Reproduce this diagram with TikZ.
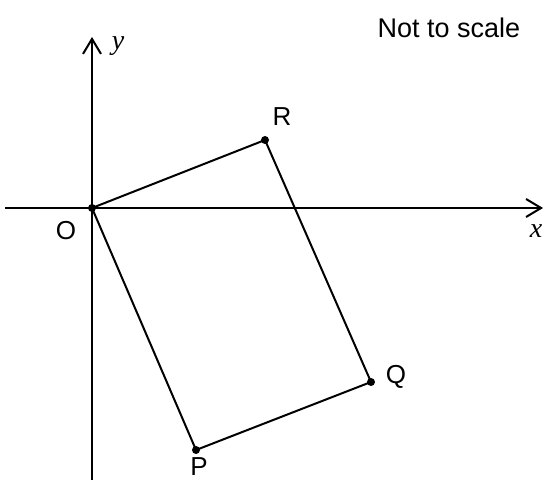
\documentclass[tikz,border=0pt]{standalone}
\usepackage{fontspec}
\setmainfont{Liberation Sans}
\newfontfamily\axisfont{Liberation Serif}
\usetikzlibrary{arrows.meta, positioning}
\tikzstyle{pt}   = [circle, fill=black, inner sep=0pt, minimum size=8pt]
\tikzstyle{axis} = [-{Straight Barb[length=15pt, width=18pt, line width=2pt]}, line width=2pt]

\begin{document}
\begin{tikzpicture}[
  x=1pt, y=-1pt,
  side/.style={line width=2pt},
  lbl/.style={font=\fontsize{26}{26}\selectfont, inner sep=0pt},
  var/.style={font=\fontsize{28}{28}\selectfont\axisfont\itshape, inner sep=0pt}
]
  \useasboundingbox (0,0) rectangle (544,481);
  % Axes
  \coordinate (xl) at (5,208);
  \coordinate (xr) at (543,208);
  \coordinate (yb) at (92,480);
  \coordinate (yt) at (92,37);
  \draw[axis] (xl) -- (xr);
  \draw[axis] (yb) -- (yt);
  \node[var] (xlab) at (536,231) {x};
  \node[var] (ylab) at (118,46) {y};

  % Corners
  \node[pt] (O) at (92,208) {};
  \node[pt] (R) at (265,140) {};
  \node[pt] (Q) at (371,382) {};
  \node[pt] (P) at (196,450) {};

  % Sides
  \draw[side] (O.center) -- (R.center) -- (Q.center) -- (P.center) -- cycle;

  % Labels
  \node[lbl] (Olab) at (66,231) {O};
  \node[lbl] (Rlab) at (282,117) {R};
  \node[lbl] (Qlab) at (396,377) {Q};
  \node[lbl] (Plab) at (199,467) {P};
  \node[lbl, font=\fontsize{27}{27}\selectfont] (note) at (449,28) {Not to scale};
\end{tikzpicture}
\end{document}
